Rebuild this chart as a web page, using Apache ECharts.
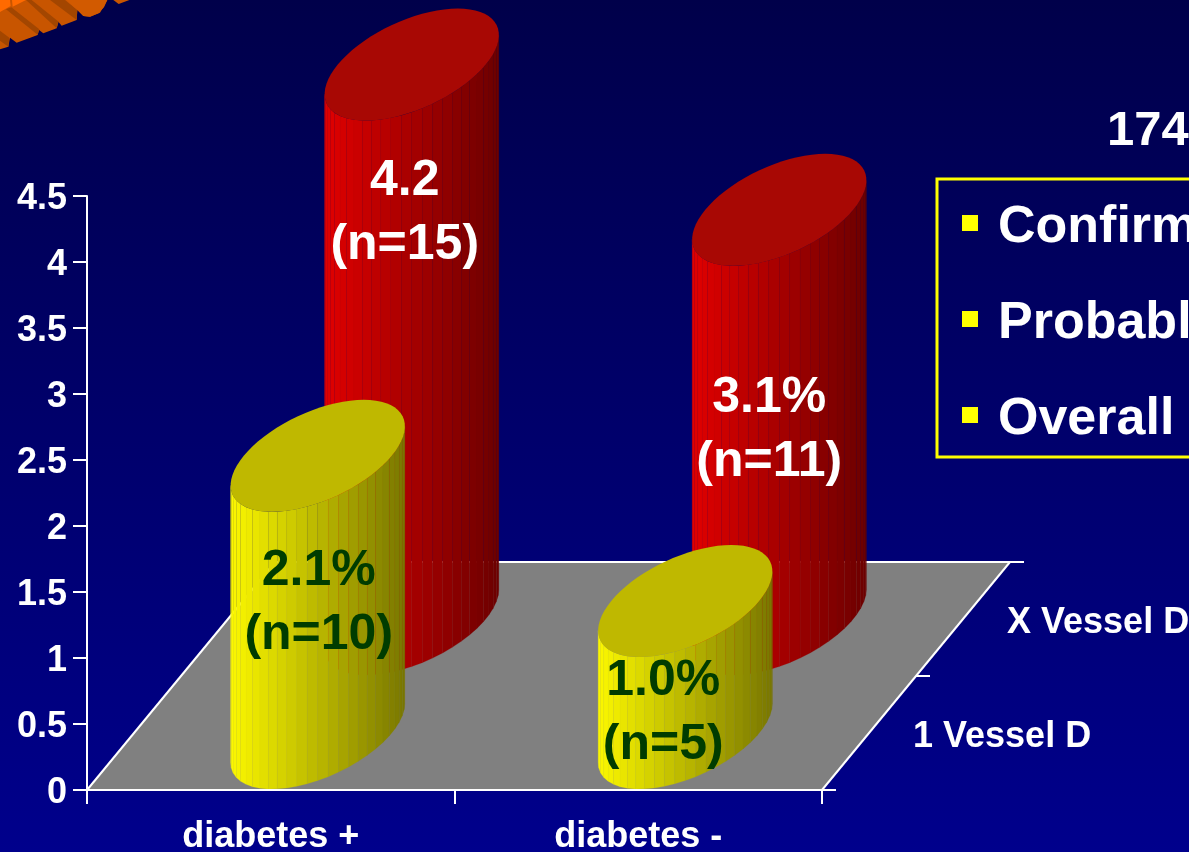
<!DOCTYPE html>
<html>
<head>
<meta charset="utf-8">
<style>html,body{margin:0;padding:0;background:#000060;overflow:hidden}#chart{width:1189px;height:852px}</style>
<script src="https://cdn.jsdelivr.net/npm/echarts@6/dist/echarts.min.js"></script>
</head>
<body>
<div id="chart"></div>
<script>
// Event rates by diabetes status and number of diseased vessels
const categories = ['diabetes +', 'diabetes -'];
const depthLabels = ['1 Vessel D', 'X Vessel D'];
const oneVesselValues = [2.1, 1.0];
const multiVesselValues = [4.2, 3.1];
const oneVesselLabels = ['2.1%\n(n=10)', '1.0%\n(n=5)'];
const multiVesselLabels = ['4.2\n(n=15)', '3.1%\n(n=11)'];
const noteItems = ['Confirmed', 'Probable', 'Overall'];
const noteTitle = '1741';

const FONT = '"Liberation Sans", Arial, sans-serif';

// Oblique projection: one depth row moves a base by this many pixels
const ROW_DX = 94, ROW_DY = -114;
// Half axes of a cylinder's elliptical cap on screen
const CAP_A = 74, CAP_BX = 46, CAP_BY = -56;
const FACETS = 26;

const rgb = (c, k) => `rgb(${Math.round(c[0] * k)},${Math.round(c[1] * k)},${Math.round(c[2] * k)})`;

// Pixel nudges of the two-line captions, relative to the base centre
const captionNudge = {
  0: [[1, -130], [-22, -20]],
  1: [[-7, -406], [-10, -189]]
};

function capPoint(cx, cy, t) {
  return [cx + CAP_A * Math.cos(t) + CAP_BX * Math.sin(t), cy + CAP_BY * Math.sin(t)];
}

function cylinderRenderer(row, sideColor, capColor, textColor, labels) {
  return function (params, api) {
    const cat = api.value(0);
    const base = api.coord([cat, 0]);
    const top = api.coord([cat, api.value(1)]);
    const cx = base[0] + ROW_DX * (row + 0.5);
    const by = base[1] + ROW_DY * (row + 0.5);
    const ty = top[1] + ROW_DY * (row + 0.5);
    const children = [];
    const t0 = Math.PI + Math.atan2(CAP_BX, CAP_A);
    const halfW = Math.hypot(CAP_A, CAP_BX);
    for (let i = 0; i < FACETS; i++) {
      const a = t0 + Math.PI * i / FACETS;
      const b = t0 + Math.PI * (i + 1) / FACETS;
      const p1 = capPoint(cx, ty, a), p2 = capPoint(cx, ty, b);
      const p3 = capPoint(cx, by, b), p4 = capPoint(cx, by, a);
      const u = ((p1[0] + p2[0]) / 2 - cx + halfW) / (2 * halfW);
      const fill = rgb(sideColor, 1 - 0.52 * u);
      children.push({
        type: 'polygon',
        shape: { points: [p1, p2, p3, p4] },
        style: { fill, stroke: fill, lineWidth: 0.2 },
        silent: true
      });
    }
    const cap = [];
    for (let i = 0; i < 72; i++) cap.push(capPoint(cx, ty, i * Math.PI / 36));
    children.push({ type: 'polygon', shape: { points: cap }, style: { fill: capColor }, silent: true });
    const n = captionNudge[row][cat];
    children.push({
      type: 'text',
      silent: true,
      style: {
        text: labels[cat],
        x: cx + n[0],
        y: by + n[1],
        fill: textColor,
        fontFamily: FONT,
        fontWeight: 'bold',
        fontSize: 50,
        lineHeight: 64,
        align: 'center',
        verticalAlign: 'middle'
      }
    });
    return { type: 'group', children };
  };
}

function floorRenderer(params) {
  const g = params.coordSys;
  const left = g.x, right = g.x + g.width, bottom = g.y + g.height;
  const dx = ROW_DX * depthLabels.length, dy = ROW_DY * depthLabels.length;
  const edge = (x1, y1, x2, y2) => ({
    type: 'line', silent: true,
    shape: { x1, y1, x2, y2 },
    style: { stroke: '#ffffff', lineWidth: 2 }
  });
  const children = [
    {
      type: 'polygon', silent: true,
      shape: { points: [[left, bottom], [right, bottom], [right + dx, bottom + dy], [left + dx, bottom + dy]] },
      style: { fill: '#808080' }
    },
    edge(left, bottom, left + dx, bottom + dy),
    edge(right, bottom, right + dx, bottom + dy),
    edge(left + dx, bottom + dy, right + dx + 14, bottom + dy),
    edge(right, bottom, right + 14, bottom),
    edge(right + dx / 2, bottom + dy / 2, right + dx / 2 + 14, bottom + dy / 2)
  ];
  depthLabels.forEach((name, i) => {
    children.push({
      type: 'text', silent: true,
      style: {
        text: name,
        x: right + ROW_DX * (i + 0.5) + 44,
        y: bottom + ROW_DY * (i + 0.5) + 4,
        fill: '#ffffff',
        fontFamily: FONT,
        fontWeight: 'bold',
        fontSize: 36,
        align: 'left',
        verticalAlign: 'middle'
      }
    });
  });
  return { type: 'group', children };
}

// Corner of the orange ribbon artwork, drawn at triple scale
const ribbonShapes = [
  { fill: '#c85500', pts: [[0,0],[0,148],[25,140],[30,113],[50,128],[113,105],[117,90],[130,100],[170,85],[175,65],[185,77],[230,60],[232,30],[250,48],[270,50],[300,38],[322,0]] },
  { fill: '#a34600', pts: [[0,92],[28,113],[25,140],[0,122]] },
  { fill: '#a34600', pts: [[18,28],[34,22],[118,88],[113,104]] },
  { fill: '#a34600', pts: [[78,0],[95,0],[176,65],[170,85]] },
  { fill: '#a34600', pts: [[150,0],[195,0],[232,30],[230,60]] },
  { fill: '#ff6a00', pts: [[0,0],[30,0],[32,18],[0,36]] },
  { fill: '#ff6a00', pts: [[36,0],[78,0],[38,20]] },
  { fill: '#d25a00', pts: [[198,0],[322,0],[312,22],[295,40],[270,50],[250,48],[232,30]] },
  { fill: '#c85500', pts: [[340,0],[388,0],[356,12]] }
];

const noteGraphics = [
  {
    type: 'rect', silent: true,
    shape: { x: 937, y: 179, width: 420, height: 278 },
    style: { fill: 'transparent', stroke: '#ffff00', lineWidth: 3 }
  },
  {
    type: 'text', silent: true, x: 1107, y: 131,
    style: { text: noteTitle, fill: '#ffffff', fontFamily: FONT, fontWeight: 'bold', fontSize: 49, verticalAlign: 'middle' }
  }
];
noteItems.forEach((name, i) => {
  const y = 223 + i * 96;
  noteGraphics.push(
    { type: 'rect', silent: true, shape: { x: 962, y: y - 8, width: 16, height: 16 }, style: { fill: '#ffff00' } },
    {
      type: 'text', silent: true, x: 998, y: y + 5,
      style: { text: name, fill: '#ffffff', fontFamily: FONT, fontWeight: 'bold', fontSize: 52, verticalAlign: 'middle' }
    }
  );
});

const axisStyle = { lineStyle: { color: '#ffffff', width: 2 } };
const tickStyle = { show: true, length: 14, lineStyle: { color: '#ffffff', width: 2 } };
const labelStyle = { color: '#ffffff', fontFamily: FONT, fontWeight: 'bold', fontSize: 36 };

const chart = echarts.init(document.getElementById('chart'));
chart.setOption({
  animation: false,
  backgroundColor: {
    type: 'linear', x: 0, y: 0, x2: 0, y2: 1,
    colorStops: [{ offset: 0, color: '#00004a' }, { offset: 1, color: '#00008c' }]
  },
  grid: { left: 87, top: 196, width: 735, height: 594, outerBoundsMode: 'none' },
  xAxis: {
    type: 'category',
    data: categories,
    z: 5,
    axisLine: axisStyle,
    axisTick: tickStyle,
    axisLabel: Object.assign({ margin: 29 }, labelStyle),
    splitLine: { show: false }
  },
  yAxis: {
    type: 'value',
    min: 0,
    max: 4.5,
    interval: 0.5,
    z: 5,
    axisLine: Object.assign({ show: true }, axisStyle),
    axisTick: tickStyle,
    axisLabel: Object.assign({ margin: 20, verticalAlign: 'top', lineHeight: 7 }, labelStyle),
    splitLine: { show: false }
  },
  graphic: [
    {
      type: 'group', scaleX: 1 / 3, scaleY: 1 / 3, silent: true,
      children: ribbonShapes.map(s => ({ type: 'polygon', shape: { points: s.pts }, style: { fill: s.fill } }))
    }
  ].concat(noteGraphics),
  series: [
    {
      type: 'custom', name: 'floor', silent: true, z: 1,
      renderItem: floorRenderer,
      data: [[0, 0]],
      encode: { x: 0, y: 1 }
    },
    {
      type: 'custom', name: depthLabels[1], silent: true, z: 2,
      renderItem: cylinderRenderer(1, [225, 0, 0], '#a80804', '#ffffff', multiVesselLabels),
      data: multiVesselValues.map((v, i) => [i, v]),
      encode: { x: 0, y: 1 }
    },
    {
      type: 'custom', name: depthLabels[0], silent: true, z: 3,
      renderItem: cylinderRenderer(0, [252, 248, 0], '#bfb800', '#003c00', oneVesselLabels),
      data: oneVesselValues.map((v, i) => [i, v]),
      encode: { x: 0, y: 1 }
    }
  ]
});
</script>
</body>
</html>
